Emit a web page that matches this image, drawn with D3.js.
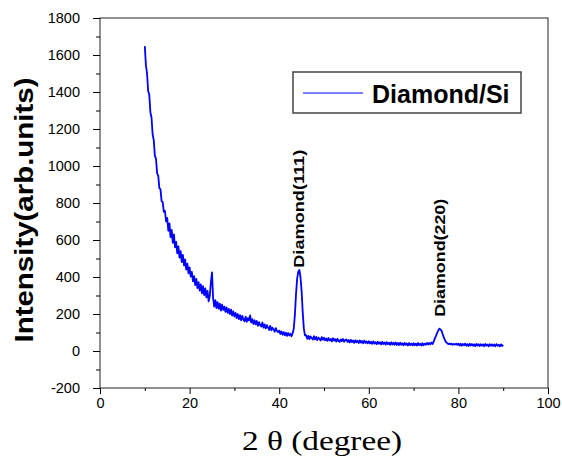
<!DOCTYPE html>
<html>
<head>
<meta charset="utf-8">
<script src="https://cdn.jsdelivr.net/npm/d3@7"></script>
<style>
  body { margin: 0; background: #fff; }
  .axis text { font-family: "Liberation Sans", Arial, sans-serif; font-size: 14.5px; fill: #000; }
  .axis line { stroke: #000; }
</style>
</head>
<body>
<svg class="chart"></svg>
<script>
// XRD scan: 2-theta from 10 to 90 deg, one reading every 0.25 deg
var twoThetaStart = 10,
    twoThetaStep = 0.25;

var intensity = [
  1648, 1545, 1500, 1405, 1385, 1290, 1262, 1170, 1140, 1055, 1040, 960, 948, 880, 875, 810, 805, 752, 758, 700,
  720, 650, 690, 615, 655, 585, 630, 560, 590, 528, 565, 505, 540, 480, 520, 462, 495, 440, 472, 420,
  452, 402, 428, 376, 405, 356, 390, 340, 372, 326, 360, 312, 350, 302, 338, 290, 325, 268, 295, 370,
  425, 285, 240, 275, 232, 264, 228, 256, 218, 250, 222, 240, 212, 236, 206, 228, 200, 224, 192, 214,
  186, 206, 178, 200, 172, 194, 166, 190, 170, 160, 186, 158, 178, 165, 192, 154, 172, 146, 166, 144,
  162, 136, 156, 140, 132, 154, 126, 144, 122, 140, 128, 114, 136, 112, 126, 118, 104, 124, 108, 102,
  110, 92, 106, 88, 102, 85, 99, 82, 97, 84, 94, 80, 96, 120, 195, 305, 390, 428, 438, 400,
  325, 210, 122, 84, 86, 66, 82, 64, 79, 70, 62, 80, 63, 76, 59, 73, 65, 57, 75, 61,
  72, 58, 68, 55, 70, 57, 65, 52, 69, 56, 64, 51, 66, 54, 50, 63, 53, 65, 50, 60,
  62, 49, 59, 46, 60, 48, 57, 44, 58, 47, 55, 43, 57, 45, 54, 42, 56, 44, 52, 41,
  53, 41, 50, 39, 52, 40, 48, 37, 51, 39, 47, 36, 49, 38, 46, 35, 48, 37, 45, 34,
  47, 35, 45, 34, 46, 33, 43, 32, 45, 34, 42, 31, 44, 33, 41, 30, 43, 32, 40, 31,
  42, 31, 40, 30, 43, 32, 39, 29, 42, 31, 40, 34, 44, 35, 43, 36, 46, 38, 52, 68,
  82, 98, 110, 121, 116, 109, 90, 74, 58, 47, 43, 37, 41, 36, 39, 34, 38, 35, 40, 33,
  40, 30, 39, 28, 38, 31, 40, 29, 37, 27, 39, 30, 38, 28, 36, 26, 38, 29, 37, 27,
  37, 28, 36, 26, 38, 29, 35, 25, 37, 28, 36, 27, 35, 26, 37, 28, 34, 25, 36, 27, 33
];

var xTicks = [0, 20, 40, 60, 80, 100],
    xMinorTicks = [10, 30, 50, 70, 90],
    yTicks = [-200, 0, 200, 400, 600, 800, 1000, 1200, 1400, 1600, 1800],
    yMinorTicks = [-100, 100, 300, 500, 700, 900, 1100, 1300, 1500, 1700];

var peakNames = ["Diamond(111)", "Diamond(220)"],
    peakAngles = [44.4, 75.9],
    peakLabelBase = [450, 185];

var seriesName = "Diamond/Si";

// Layout
var width = 562, height = 462,
    plot = {left: 100, right: 548, top: 18, bottom: 388};

var svg = d3.select(".chart")
    .attr("width", width)
    .attr("height", height);

var x = d3.scaleLinear().domain([0, 100]).range([plot.left, plot.right]);
var y = d3.scaleLinear().domain([-200, 1800]).range([plot.bottom, plot.top]);

var data = intensity.map(function(v, i) { return [twoThetaStart + i * twoThetaStep, v]; });

// plain hyphen for negatives, like the original
var plain = function(d) { return String(d); };

// Frame
svg.append("rect")
    .attr("x", plot.left).attr("y", plot.top)
    .attr("width", plot.right - plot.left).attr("height", plot.bottom - plot.top)
    .attr("fill", "none").attr("stroke", "#222").attr("stroke-width", 1);

// Axes
svg.append("g").attr("class", "axis")
    .attr("transform", "translate(0," + plot.bottom + ")")
    .call(d3.axisBottom(x).tickValues(xTicks).tickSize(6).tickSizeOuter(0).tickPadding(4).tickFormat(plain))
    .call(function(g) { g.select(".domain").remove(); });

svg.append("g").attr("class", "axis")
    .attr("transform", "translate(0," + plot.bottom + ")")
    .call(d3.axisBottom(x).tickValues(xMinorTicks).tickSize(3).tickSizeOuter(0).tickFormat(""))
    .call(function(g) { g.select(".domain").remove(); });

svg.append("g").attr("class", "axis")
    .attr("transform", "translate(" + plot.left + ",0)")
    .call(d3.axisLeft(y).tickValues(yTicks).tickSize(7).tickSizeOuter(0).tickPadding(13).tickFormat(plain))
    .call(function(g) { g.select(".domain").remove(); });

svg.append("g").attr("class", "axis")
    .attr("transform", "translate(" + plot.left + ",0)")
    .call(d3.axisLeft(y).tickValues(yMinorTicks).tickSize(4).tickSizeOuter(0).tickFormat(""))
    .call(function(g) { g.select(".domain").remove(); });

// Scan line
svg.append("path")
    .datum(data)
    .attr("fill", "none")
    .attr("stroke", "#0000ff")
    .attr("stroke-width", 1.8)
    .attr("stroke-linejoin", "round")
    .attr("d", d3.line().x(function(d) { return x(d[0]); }).y(function(d) { return y(d[1]); }));

// Peak labels
svg.selectAll(".peak")
    .data(peakNames)
    .enter().append("text")
    .attr("class", "peak")
    .attr("transform", function(d, i) {
      return "translate(" + (x(peakAngles[i]) + 5) + "," + y(peakLabelBase[i]) + ") rotate(-90)";
    })
    .attr("font-family", "Liberation Sans, Arial, sans-serif")
    .attr("font-weight", "bold")
    .attr("font-size", 14)
    .attr("textLength", 118)
    .attr("lengthAdjust", "spacingAndGlyphs")
    .text(function(d) { return d; });

// Axis titles
svg.append("text")
    .attr("transform", "translate(33,210) rotate(-90)")
    .attr("text-anchor", "middle")
    .attr("font-family", "Liberation Sans, Arial, sans-serif")
    .attr("font-weight", "bold")
    .attr("font-size", 25)
    .attr("textLength", 265)
    .attr("lengthAdjust", "spacingAndGlyphs")
    .text("Intensity(arb.units)");

svg.append("text")
    .attr("x", 322).attr("y", 450)
    .attr("text-anchor", "middle")
    .attr("font-family", "Liberation Serif, serif")
    .attr("font-size", 27)
    .attr("textLength", 160)
    .attr("lengthAdjust", "spacingAndGlyphs")
    .text("2 θ (degree)");

// Legend
var legend = svg.append("g");
legend.append("rect")
    .attr("x", 293).attr("y", 72).attr("width", 228).attr("height", 41)
    .attr("fill", "#fff").attr("stroke", "#444").attr("stroke-width", 1.5);
legend.append("line")
    .attr("x1", 303).attr("x2", 363).attr("y1", 93).attr("y2", 93)
    .attr("stroke", "#0000ff").attr("stroke-width", 1.2);
legend.append("text")
    .attr("x", 372).attr("y", 103)
    .attr("font-family", "Liberation Sans, Arial, sans-serif")
    .attr("font-weight", "bold")
    .attr("font-size", 25)
    .text(seriesName);
</script>
</body>
</html>
